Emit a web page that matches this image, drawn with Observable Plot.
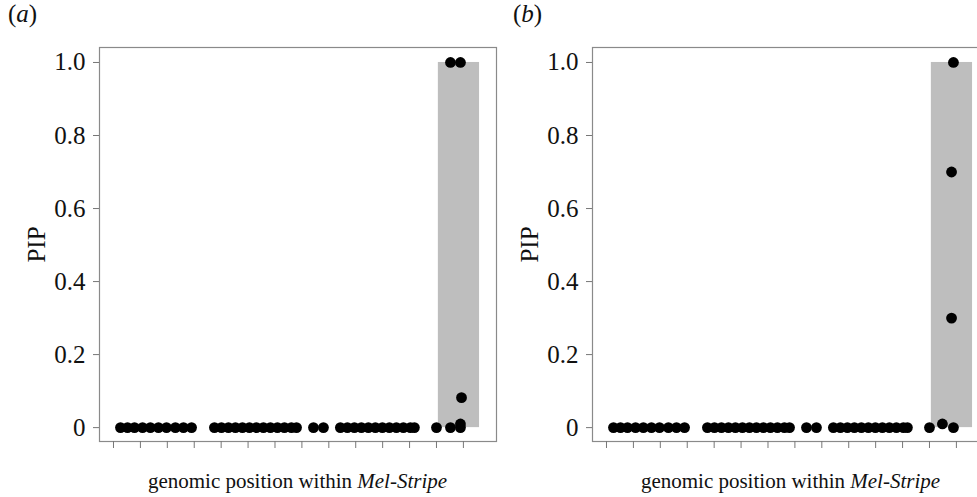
<!DOCTYPE html>
<html>
<head>
<meta charset="utf-8">
<script src="https://cdn.jsdelivr.net/npm/d3@7"></script>
<script src="https://cdn.jsdelivr.net/npm/@observablehq/plot@0.6"></script>
<style>
  body { margin: 0; background: white; font-family: "Liberation Serif", "DejaVu Serif", serif; }
  #wrap { position: relative; width: 977px; height: 497px; overflow: hidden; background: white; }
  .panel { position: absolute; top: 0; width: 500px; height: 497px; }
  .tag { position: absolute; top: 0px; font-size: 25px; color: #111; }
  .xlab { position: absolute; top: 469px; width: 397px; text-align: center; font-size: 21px; color: #111; }
</style>
</head>
<body>
<div id="wrap"></div>
<script>
// Genomic positions of SNPs (in axis tick units) — background SNPs, same in both panels
const positions = [
  1.26, 1.52, 1.78, 2.08, 2.37, 2.67, 2.97, 3.30, 3.60, 3.90,
  4.75, 5.01, 5.27, 5.53, 5.79, 6.05, 6.31, 6.57, 6.83, 7.09, 7.35, 7.61, 7.80,
  8.43, 8.80,
  9.43, 9.69, 9.95, 10.21, 10.47, 10.73, 10.99, 11.25, 11.51, 11.77, 12.03, 12.18,
  13.00
];
// SNPs inside the credible region (panel a)
const clusterPosA = [13.52, 13.89, 13.52, 13.89, 13.93, 13.89];
const clusterPipA = [0.0, 0.0, 1.0, 1.0, 0.082, 0.01];
// SNPs inside the credible region (panel b)
const clusterPosB = [13.48, 13.89, 13.89, 13.82, 13.82];
const clusterPipB = [0.01, 0.0, 1.0, 0.70, 0.30];
// Highlighted region
const regionStart = 13.07;
const regionEnd = 14.60;
// Axis ticks
const xTicks = [1, 2, 3, 4, 5, 6, 7, 8, 9, 10, 11, 12, 13, 14];
const yTicks = [0, 0.2, 0.4, 0.6, 0.8, 1.0];
const panelTags = ["a", "b"];

function makePanel(clusterPos, clusterPip) {
  const pts = positions.map(p => ({x: p, y: 0}))
    .concat(clusterPos.map((p, i) => ({x: p, y: clusterPip[i]})));
  return Plot.plot({
    width: 500,
    height: 497,
    marginLeft: 99,
    marginRight: 4,
    marginTop: 47,
    marginBottom: 56,
    style: {fontFamily: "Liberation Serif, serif", fontSize: "25px", color: "#111", background: "transparent", maxWidth: "none", overflow: "visible"},
    x: {domain: [0.48, 15.23]},
    y: {domain: [-0.038, 1.041]},
    marks: [
      Plot.rect([{x1: regionStart, x2: regionEnd, y1: 0, y2: 1}], {x1: "x1", x2: "x2", y1: "y1", y2: "y2", fill: "#bebebe"}),
      Plot.frame({stroke: "#8a8a8a", strokeWidth: 1.2}),
      Plot.axisX({ticks: xTicks, tickFormat: () => "", tickSize: 7, stroke: "#777", label: null}),
      Plot.axisY({ticks: yTicks, tickFormat: d => d === 0 ? "0" : d.toFixed(1), tickSize: 6, tickPadding: 8, stroke: "#777", fontSize: 25,
        label: "PIP", labelAnchor: "center", labelArrow: "none", labelOffset: 72}),
      Plot.dot(pts, {x: "x", y: "y", r: 5.4, fill: "black", stroke: "none"})
    ]
  });
}

const wrap = document.getElementById("wrap");
const clusters = [[clusterPosA, clusterPipA], [clusterPosB, clusterPipB]];
panelTags.forEach((tag, i) => {
  const div = document.createElement("div");
  div.className = "panel";
  div.style.left = (i * 493) + "px";
  div.appendChild(makePanel(clusters[i][0], clusters[i][1]));
  wrap.appendChild(div);
  const t = document.createElement("div");
  t.className = "tag";
  t.style.left = (8 + i * 505) + "px";
  t.innerHTML = "(<i>" + tag + "</i>)";
  wrap.appendChild(t);
  const xl = document.createElement("div");
  xl.className = "xlab";
  xl.style.left = (99 + i * 493) + "px";
  xl.innerHTML = "genomic position within <i>Mel-Stripe</i>";
  wrap.appendChild(xl);
});
</script>
</body>
</html>
